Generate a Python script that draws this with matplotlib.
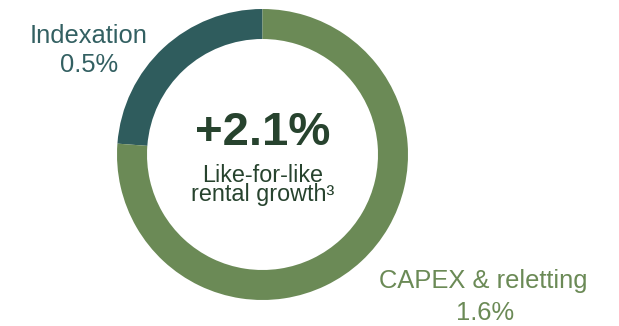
import matplotlib
matplotlib.use("Agg")
import matplotlib.pyplot as plt

plt.rcParams['font.family'] = ['Liberation Sans', 'DejaVu Sans']

# growth components (percentage points)
labels = ["Indexation", "CAPEX & reletting"]
values = [0.5, 1.6]
colors = ["#2F5C5D", "#6B8A56"]
total_label = "+2.1%"
subtitle = ["Like-for-like", "rental growth\u00b3"]

W, H = 619, 326
fig = plt.figure(figsize=(W / 100, H / 100), dpi=100)
ax = fig.add_axes([0, 0, 1, 1])

# work in pixel units, y pointing up
cx, cy = 262.5, H - 154.5
r_out, ring = 145.5, 30

ax.pie(values, colors=colors, startangle=90, counterclock=True,
       radius=r_out, center=(cx, cy),
       wedgeprops=dict(width=ring, linewidth=0))

ax.set_xlim(0, W)
ax.set_ylim(0, H)
ax.set_aspect('equal')
ax.axis('off')

# centre text
ax.text(cx, H - 145, total_label, ha='center', va='baseline',
        fontsize=34, fontweight='bold', color="#27432E")
ax.text(cx, H - 201.5, "\n".join(subtitle), ha='center', va='baseline',
        multialignment='center', linespacing=0.78,
        fontsize=16.8, color="#27432E")

# segment labels
ax.text(89, H - 43, labels[0], ha='center', va='baseline',
        fontsize=18.4, color="#336062")
ax.text(89, H - 72, f"{values[0]}%", ha='center', va='baseline',
        fontsize=18.4, color="#336062")
ax.text(483, H - 288, labels[1], ha='center', va='baseline',
        fontsize=18.4, color="#6B8A56")
ax.text(485, H - 320, f"{values[1]}%", ha='center', va='baseline',
        fontsize=18.4, color="#6B8A56")

fig.savefig("out.png", dpi=100)
